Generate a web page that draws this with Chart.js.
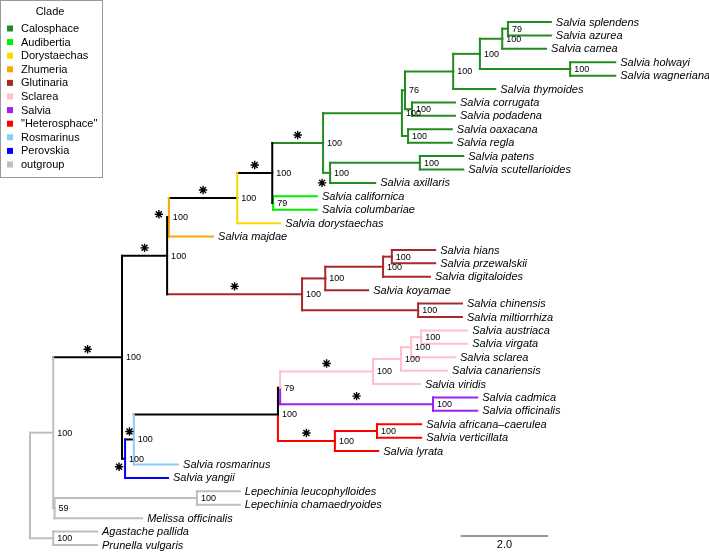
<!DOCTYPE html>
<html>
<head>
<meta charset="utf-8">
<script src="https://cdn.jsdelivr.net/npm/chart.js@4.4.1/dist/chart.umd.min.js"></script>
<style>
  html, body { margin: 0; padding: 0; background: #fff; }
  canvas { display: block; }
</style>
</head>
<body>
<canvas id="treeChart" width="709" height="553"></canvas>
<script>
// tips, top to bottom (row index = position on y)
var tipNames = ['Salvia splendens', 'Salvia azurea', 'Salvia carnea', 'Salvia holwayi', 'Salvia wagneriana',
    'Salvia thymoides', 'Salvia corrugata', 'Salvia podadena', 'Salvia oaxacana', 'Salvia regla',
    'Salvia patens', 'Salvia scutellarioides', 'Salvia axillaris', 'Salvia californica', 'Salvia columbariae',
    'Salvia dorystaechas', 'Salvia majdae', 'Salvia hians', 'Salvia przewalskii', 'Salvia digitaloides',
    'Salvia koyamae', 'Salvia chinensis', 'Salvia miltiorrhiza', 'Salvia austriaca', 'Salvia virgata',
    'Salvia sclarea', 'Salvia canariensis', 'Salvia viridis', 'Salvia cadmica', 'Salvia officinalis',
    'Salvia africana\u2013caerulea', 'Salvia verticillata', 'Salvia lyrata', 'Salvia rosmarinus', 'Salvia yangii',
    'Lepechinia leucophylloides', 'Lepechinia chamaedryoides', 'Melissa officinalis', 'Agastache pallida', 'Prunella vulgaris'];
var tipClade = ['Calosphace', 'Calosphace', 'Calosphace', 'Calosphace', 'Calosphace',
    'Calosphace', 'Calosphace', 'Calosphace', 'Calosphace', 'Calosphace',
    'Calosphace', 'Calosphace', 'Calosphace', 'Audibertia', 'Audibertia',
    'Dorystaechas', 'Zhumeria', 'Glutinaria', 'Glutinaria', 'Glutinaria',
    'Glutinaria', 'Glutinaria', 'Glutinaria', 'Sclarea', 'Sclarea',
    'Sclarea', 'Sclarea', 'Sclarea', 'Salvia', 'Salvia',
    '"Heterosphace"', '"Heterosphace"', '"Heterosphace"', 'Rosmarinus', 'Perovskia',
    'outgroup', 'outgroup', 'outgroup', 'outgroup', 'outgroup'];
var tipParent = ['SA', 'SA', 'N1b', 'HW', 'HW', 'N1', 'CP', 'CP', 'OR', 'OR',
    'PS', 'PS', 'M', 'Aud', 'Aud', 'E', 'Z', 'HP', 'HP', 'HPD',
    'GK', 'CM', 'CM', 'AVg', 'AVg', 'Sc3', 'Sc4', 'Scl', 'Sal', 'Sal',
    'AfV', 'AfV', 'H', 'Q', 'P', 'Lep', 'Lep', 'C', 'B', 'B'];
// distance from the root (scale bar = 2.0)
var tipDepth = [11.89, 11.89, 11.78, 13.36, 13.36, 10.62, 9.70, 9.70, 9.63, 9.63,
    9.89, 9.89, 7.88, 6.55, 6.55, 5.71, 4.18, 9.25, 9.25, 9.13,
    7.72, 9.86, 9.86, 9.98, 9.98, 9.70, 9.52, 8.90, 10.21, 10.21,
    8.93, 8.93, 7.95, 3.38, 3.15, 4.79, 4.79, 2.56, 1.53, 1.53];

// internal nodes
var nodeIds = ['R', 'A', 'B', 'C', 'Lep', 'S', 'D', 'Z', 'E', 'F',
    'Aud', 'K', 'L', 'X', 'N1', 'N1a', 'N1b', 'SA', 'HW', 'CP',
    'OR', 'M', 'PS', 'G', 'GK', 'HPD', 'HP', 'CM', 'P', 'Q',
    'T', 'U', 'Scl', 'Sc4', 'Sc3', 'AVg', 'Sal', 'H', 'AfV'];
var nodeParent = [null, 'R', 'R', 'A', 'C', 'A', 'S', 'D', 'Z', 'E',
    'F', 'F', 'K', 'L', 'X', 'N1', 'N1a', 'N1b', 'N1a', 'X',
    'L', 'K', 'M', 'D', 'G', 'GK', 'HPD', 'G', 'S', 'P',
    'Q', 'T', 'U', 'Scl', 'Sc4', 'Sc3', 'U', 'T', 'H'];
var nodeDepth = [0, 0.53, 0.53, 0.56, 3.81, 2.10, 3.13, 3.17, 4.73, 5.53,
    5.55, 6.69, 8.49, 8.56, 9.66, 10.27, 10.78, 10.91, 12.33, 8.72,
    8.63, 6.85, 8.90, 6.21, 6.74, 8.06, 8.26, 8.86, 2.17, 2.37,
    5.66, 5.71, 7.83, 8.47, 8.70, 8.93, 9.20, 6.96, 7.92];
var nodeSupport = ['', '100', '100', '59', '100', '100', '100', '100', '100', '100',
    '79', '100', '100', '76', '100', '100', '100', '79', '100', '100',
    '100', '100', '100', '100', '100', '100', '100', '100', '100', '100',
    '100', '79', '100', '100', '100', '100', '100', '100', '100'];
// clade of the branch leading into each node
var nodeClade = ['outgroup', 'outgroup', 'outgroup', 'outgroup', 'outgroup', 'backbone', 'backbone', 'backbone', 'backbone', 'backbone',
    'Audibertia', 'Calosphace', 'Calosphace', 'Calosphace', 'Calosphace', 'Calosphace', 'Calosphace', 'Calosphace', 'Calosphace', 'Calosphace',
    'Calosphace', 'Calosphace', 'Calosphace', 'Glutinaria', 'Glutinaria', 'Glutinaria', 'Glutinaria', 'Glutinaria', 'backbone', 'backbone',
    'backbone', 'backbone', 'Sclarea', 'Sclarea', 'Sclarea', 'Sclarea', 'Salvia', '"Heterosphace"', '"Heterosphace"'];
// branches marked with an asterisk
var starNodes = ['S', 'D', 'Z', 'E', 'F', 'K', 'M', 'G', 'Scl', 'Sal', 'H', 'Q', 'P'];

var clades = ['Calosphace', 'Audibertia', 'Dorystaechas', 'Zhumeria', 'Glutinaria', 'Sclarea',
    'Salvia', '"Heterosphace"', 'Rosmarinus', 'Perovskia', 'outgroup'];
var scaleBarLength = 2.0;

// ---- styling ----
var cladeColors = {
    'Calosphace': '#228B22',
    'Audibertia': '#00EE00',
    'Dorystaechas': '#FFD700',
    'Zhumeria': '#FFA500',
    'Glutinaria': '#A52A2A',
    'Sclarea': '#FFC0CB',
    'Salvia': '#A020F0',
    '"Heterosphace"': '#FF0000',
    'Rosmarinus': '#87CEFA',
    'Perovskia': '#0000FF',
    'outgroup': '#BEBEBE',
    'backbone': '#000000'
};
// nodes whose vertical bar is drawn in one colour
var verticalClade = { A: 'outgroup', D: 'backbone', Z: 'Zhumeria', E: 'Dorystaechas', F: 'backbone', P: 'Perovskia', Q: 'Rosmarinus' };
// asterisks on very short branches sit next to the node (pixels)
var starShift = { Z: [-10, -3], M: [-8, 10], P: [-6, 8] };
var FONT = '"Liberation Sans", Arial, Helvetica, sans-serif';

// ---- build tree ----
var nodeIndex = {};
nodeIds.forEach(function (id, i) { nodeIndex[id] = i; });
var kids = nodeIds.map(function () { return []; });
nodeParent.forEach(function (p, i) { if (p) kids[nodeIndex[p]].push({ tip: false, i: i }); });
tipParent.forEach(function (p, i) { kids[nodeIndex[p]].push({ tip: true, i: i }); });

var nodeY = [];
function yOf(c) { return c.tip ? c.i : calcY(c.i); }
function depthOf(c) { return c.tip ? tipDepth[c.i] : nodeDepth[c.i]; }
function cladeOf(c) { return c.tip ? tipClade[c.i] : nodeClade[c.i]; }
function calcY(i) {
    if (nodeY[i] !== undefined) return nodeY[i];
    var ys = kids[i].map(yOf);
    nodeY[i] = (Math.min.apply(null, ys) + Math.max.apply(null, ys)) / 2;
    return nodeY[i];
}
calcY(0);

var datasets = [];
function seg(x1, y1, x2, y2, color) {
    datasets.push({
        data: [{ x: x1, y: y1 }, { x: x2, y: y2 }],
        showLine: true,
        borderColor: color,
        borderWidth: 2,
        borderCapStyle: 'square',
        pointRadius: 0,
        fill: false
    });
}

// vertical bars
nodeIds.forEach(function (id, i) {
    var ys = kids[i].map(yOf);
    if (verticalClade[id]) {
        seg(nodeDepth[i], Math.min.apply(null, ys), nodeDepth[i], Math.max.apply(null, ys), cladeColors[verticalClade[id]]);
    } else {
        kids[i].forEach(function (c) {
            seg(nodeDepth[i], nodeY[i], nodeDepth[i], yOf(c), cladeColors[cladeOf(c)]);
        });
    }
});
// horizontal branches
nodeIds.forEach(function (id, i) {
    kids[i].forEach(function (c) {
        seg(nodeDepth[i], yOf(c), depthOf(c), yOf(c), cladeColors[cladeOf(c)]);
    });
});

var treeText = {
    id: 'treeText',
    afterDatasetsDraw: function (chart) {
        var ctx = chart.ctx;
        var xs = chart.scales.x, ys = chart.scales.y;
        ctx.save();
        ctx.fillStyle = '#000';
        ctx.textBaseline = 'middle';
        ctx.textAlign = 'left';

        // tip labels
        ctx.font = 'italic 11px ' + FONT;
        tipNames.forEach(function (name, i) {
            ctx.fillText(name, xs.getPixelForValue(tipDepth[i]) + 5, ys.getPixelForValue(i) + 0.5);
        });

        // support values
        ctx.font = '9px ' + FONT;
        nodeIds.forEach(function (id, i) {
            if (!nodeSupport[i]) return;
            ctx.fillText(nodeSupport[i], xs.getPixelForValue(nodeDepth[i]) + 4, ys.getPixelForValue(nodeY[i]) + 0.5);
        });

        // asterisks
        ctx.strokeStyle = '#000';
        ctx.lineWidth = 1.4;
        starNodes.forEach(function (id) {
            var i = nodeIndex[id];
            var p = nodeIndex[nodeParent[i]];
            var px, py;
            if (starShift[id]) {
                px = xs.getPixelForValue(nodeDepth[i]) + starShift[id][0];
                py = ys.getPixelForValue(nodeY[i]) + starShift[id][1];
            } else {
                px = xs.getPixelForValue((nodeDepth[i] + nodeDepth[p]) / 2);
                py = ys.getPixelForValue(nodeY[i]) - 8;
            }
            var r = 4.2;
            ctx.beginPath();
            for (var k = 0; k < 4; k++) {
                var a = k * Math.PI / 4;
                ctx.moveTo(px - r * Math.cos(a), py - r * Math.sin(a));
                ctx.lineTo(px + r * Math.cos(a), py + r * Math.sin(a));
            }
            ctx.stroke();
            ctx.beginPath();
            ctx.arc(px, py, 1.6, 0, Math.PI * 2);
            ctx.fill();
        });

        // scale bar
        var x0 = xs.getPixelForValue(9.83);
        var x1 = xs.getPixelForValue(9.83 + scaleBarLength);
        ctx.strokeStyle = '#333';
        ctx.lineWidth = 1.2;
        ctx.beginPath();
        ctx.moveTo(x0, 536);
        ctx.lineTo(x1, 536);
        ctx.stroke();
        ctx.font = '11px ' + FONT;
        ctx.textAlign = 'center';
        ctx.fillText(scaleBarLength.toFixed(1), (x0 + x1) / 2, 545);

        // legend box
        ctx.fillStyle = '#fff';
        ctx.fillRect(0.5, 0.5, 102, 177);
        ctx.strokeStyle = '#999';
        ctx.lineWidth = 1;
        ctx.strokeRect(0.5, 0.5, 102, 177);
        ctx.fillStyle = '#000';
        ctx.fillText('Clade', 50, 11.5);
        ctx.textAlign = 'left';
        clades.forEach(function (c, k) {
            var y = 28.5 + k * 13.6;
            ctx.fillStyle = cladeColors[c];
            ctx.fillRect(7, y - 3, 6, 6);
            ctx.fillStyle = '#000';
            ctx.fillText(c, 21, y + 0.5);
        });
        ctx.restore();
    }
};

var canvas = document.getElementById('treeChart');
new Chart(canvas.getContext('2d'), {
    type: 'scatter',
    data: { datasets: datasets },
    options: {
        responsive: false,
        animation: false,
        events: [],
        layout: { padding: 0 },
        scales: {
            x: { type: 'linear', display: false, min: -0.685, max: 15.5 },
            y: { type: 'linear', display: false, min: -1.64, max: 39.6, reverse: true }
        },
        plugins: {
            legend: { display: false },
            tooltip: { enabled: false }
        }
    },
    plugins: [treeText]
});
</script>
</body>
</html>
